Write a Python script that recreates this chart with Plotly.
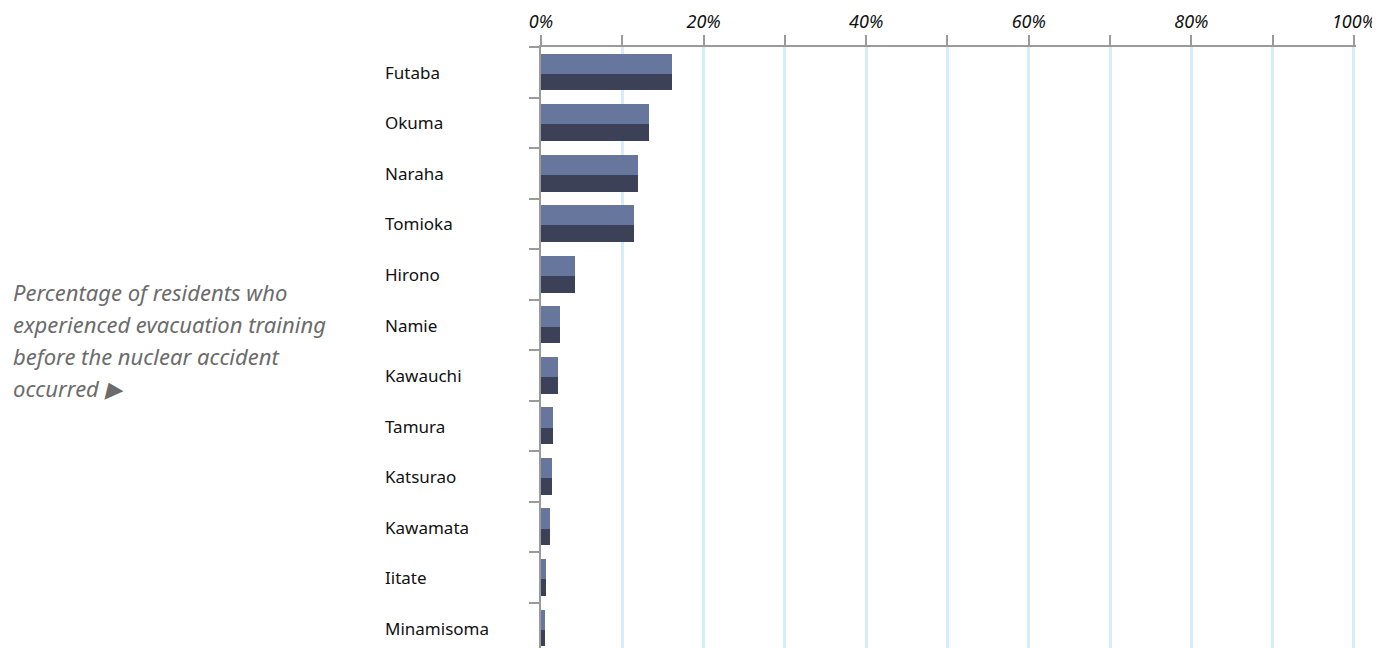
import plotly.graph_objects as go

categories = ["Futaba", "Okuma", "Naraha", "Tomioka", "Hirono", "Namie",
              "Kawauchi", "Tamura", "Katsurao", "Kawamata", "Iitate", "Minamisoma"]
values = [16.1, 13.3, 11.9, 11.4, 4.2, 2.3, 2.1, 1.5, 1.35, 1.1, 0.6, 0.5]
tick_vals = [0, 10, 20, 30, 40, 50, 60, 70, 80, 90, 100]
tick_text = ["0%", "", "20%", "", "40%", "", "60%", "", "80%", "", "100%"]
note_lines = ["Percentage of residents who", "experienced evacuation training",
              "before the nuclear accident", "occurred \u25B6"]

# page body has an 8px margin, so the figure is offset by 8px
OFF = 8
W, H = 1380 - OFF, 648 - OFF
PL, PR, PT, PB = 541, 1356, 47, 648  # absolute plot-area bounds in the page
L, T, B = PL - OFF, PT - OFF, 0
R = OFF + W - PR
plot_w = PR - PL
plot_h = PB - PT

fig = go.Figure()
fig.add_trace(go.Bar(
    y=categories, x=values, orientation="h",
    marker=dict(color="#67769C", line=dict(width=0)),
    width=0.40, offset=-0.37, hoverinfo="x+y", showlegend=False,
))
fig.add_trace(go.Bar(
    y=categories, x=values, orientation="h",
    marker=dict(color="#3C4158", line=dict(width=0)),
    width=0.33, offset=0.03, hoverinfo="x+y", showlegend=False,
))

for c in categories:
    fig.add_annotation(
        x=(383 - PL) / plot_w, xref="paper", y=c, yref="y",
        text=c, showarrow=False, xanchor="left", yanchor="middle",
        font=dict(family="Noto Sans, Open Sans, sans-serif", size=17, color="#111111"),
    )

for i, line in enumerate(note_lines):
    yc = 292 + 32 * i
    fig.add_annotation(
        x=(11 - PL) / plot_w, xref="paper", y=(PB - yc) / plot_h, yref="paper",
        text=line, showarrow=False, xanchor="left", yanchor="middle", align="left",
        font=dict(family="Noto Sans, Open Sans, sans-serif", size=22, color="#6b6b6b", style="italic"),
    )

fig.update_layout(
    width=W, height=H,
    margin=dict(l=L, r=R, t=T, b=B, pad=0),
    paper_bgcolor="white", plot_bgcolor="white",
    barmode="overlay", bargap=0,
    xaxis=dict(
        side="top", range=[0, 100.25], tickmode="array", tickvals=tick_vals, ticktext=tick_text,
        showgrid=True, gridcolor="#D5EDF9", gridwidth=3,
        showline=True, linecolor="#9a9a9a", linewidth=2,
        ticks="outside", ticklen=10, tickwidth=2, tickcolor="#9a9a9a",
        tickfont=dict(family="Noto Sans, Open Sans, sans-serif", size=18, color="#111111", style="italic"),
        zeroline=False, fixedrange=True,
    ),
    yaxis=dict(
        type="category", categoryorder="array", categoryarray=categories,
        range=[11.39, -0.5],
        showline=True, linecolor="#9a9a9a", linewidth=2,
        ticks="outside", ticklen=10, tickwidth=2, tickcolor="#9a9a9a",
        tickson="boundaries", showticklabels=False, showgrid=False, zeroline=False,
        fixedrange=True,
    ),
)

fig.write_html("out.html")
